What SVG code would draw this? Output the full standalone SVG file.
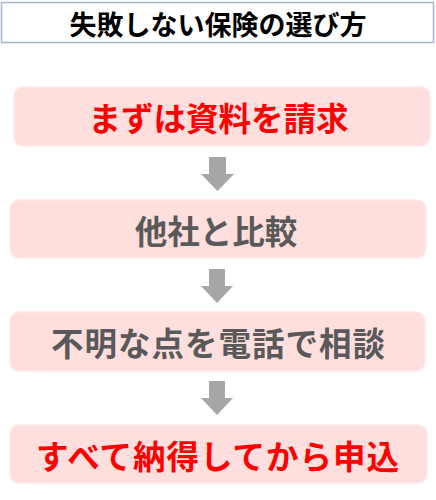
<svg xmlns="http://www.w3.org/2000/svg" width="436" height="500" viewBox="0 0 436 500">
<style>
.box{fill:#FFDEDE;stroke:#FFE9E9;stroke-width:1.5}
.t{font-family:"Noto Sans CJK JP","Noto Sans",sans-serif;font-weight:bold;text-anchor:middle;dominant-baseline:central}
.red{fill:#FF0000;font-size:32.5px}
.gray{fill:#595959;font-size:32.5px}
.wide{letter-spacing:1px}
.arr{fill:#A6A6A6}
</style>
<rect width="436" height="500" fill="#FFFFFF"/>
<g id="title">
<rect x="1.5" y="2.5" width="432" height="40" fill="#FFFFFF" stroke="#A9B6CF" stroke-width="1.5"/>
<text class="t" x="218" y="23" font-size="27" fill="#000000">失敗しない保険の選び方</text>
</g>
<g id="step1">
<rect class="box" x="14" y="87" width="416" height="59" rx="9"/>
<text class="t red" x="218.5" y="116.5">まずは資料を請求</text>
</g>
<g id="step2">
<rect class="box" x="10" y="200" width="416" height="58" rx="9"/>
<text class="t gray" x="216" y="229">他社と比較</text>
</g>
<g id="step3">
<rect class="box" x="10" y="312" width="415" height="59" rx="9"/>
<text class="t gray wide" x="218.5" y="341.5">不明な点を電話で相談</text>
</g>
<g id="step4">
<rect class="box" x="10" y="425" width="417" height="58" rx="9"/>
<text class="t red wide" x="218" y="454">すべて納得してから申込</text>
</g>
<g id="connectors">
<polygon class="arr" points="209,157 226,157 226,174 234,174 217.5,191 201,174 209,174"/>
<polygon class="arr" points="209,269 225,269 225,286 233,286 217,303 201,286 209,286"/>
<polygon class="arr" points="209,381 225,381 225,398 233,398 217,415 201,398 209,398"/>
</g>
</svg>
